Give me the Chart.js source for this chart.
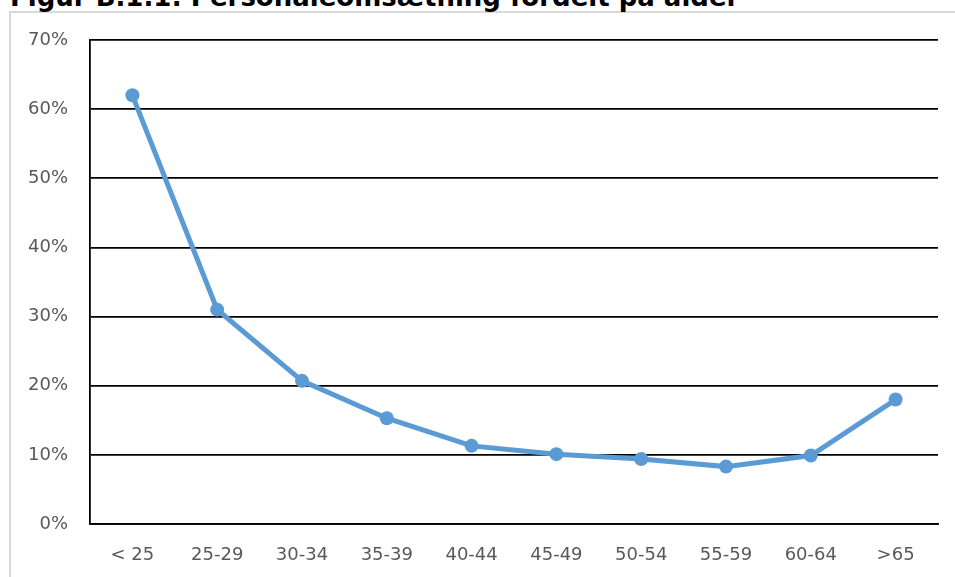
<!DOCTYPE html>
<html>
<head>
<meta charset="utf-8">
<script src="https://cdn.jsdelivr.net/npm/chart.js@4"></script>
<style>
  html, body { margin: 0; padding: 0; background: #fff; }
  body { width: 955px; height: 577px; position: relative; overflow: hidden; }
  #title {
    position: absolute; left: 10px; top: -16px; line-height: 26px;
    font-family: "DejaVu Sans", Verdana, sans-serif; font-weight: bold;
    font-size: 26px; color: #000; white-space: nowrap;
  }
  #frame {
    position: absolute; left: 9px; top: 11px; width: 1000px; height: 620px;
    border: 2px solid #d9d9d9; box-sizing: border-box; background: #fff;
  }
  #wrap { position: absolute; left: 0; top: 0; width: 955px; height: 577px; }
</style>
</head>
<body>
<div id="frame"></div>
<div id="title">Figur B.1.1: Personaleomsætning fordelt på alder</div>
<div id="wrap"><canvas id="c"></canvas></div>
<script>
// Age groups and staff turnover share (%)
const ageGroups = ["< 25", "25-29", "30-34", "35-39", "40-44", "45-49", "50-54", "55-59", "60-64", ">65"];
const turnover = [62.0, 31.0, 20.7, 15.3, 11.3, 10.1, 9.4, 8.3, 9.9, 18.0];
const yTicks = [0, 10, 20, 30, 40, 50, 60, 70];

const lineBlue = "#5B9BD5";
const tickFont = { family: "'DejaVu Sans', Verdana, sans-serif", size: 18 };

new Chart(document.getElementById("c"), {
  type: "line",
  data: {
    labels: ageGroups,
    datasets: [{
      data: turnover,
      borderColor: lineBlue,
      backgroundColor: lineBlue,
      borderWidth: 5,
      pointRadius: 7,
      pointHoverRadius: 7,
      pointBorderWidth: 0,
      pointBackgroundColor: lineBlue,
      tension: 0,
      fill: false
    }]
  },
  options: {
    responsive: true,
    maintainAspectRatio: false,
    animation: false,
    layout: { padding: { left: 0, right: 17, top: 40, bottom: 0 } },
    plugins: { legend: { display: false }, tooltip: { enabled: false } },
    scales: {
      x: {
        offset: true,
        grid: { display: false, drawTicks: false },
        border: { display: true, color: "#000", width: 1.8 },
        ticks: { color: "#595959", font: tickFont, padding: 21, maxRotation: 0, autoSkip: false },
        afterFit: (s) => { s.height = 53; }
      },
      y: {
        min: 0, max: 70,
        afterBuildTicks: (s) => { s.ticks = yTicks.map(v => ({ value: v })); },
        grid: { color: "#000", lineWidth: 1.8, drawTicks: false },
        border: { display: true, color: "#000", width: 1.8 },
        ticks: { color: "#595959", font: tickFont, padding: 22, callback: (v) => v + "%" },
        afterFit: (s) => { s.width = 90; }
      }
    }
  }
});
</script>
</body>
</html>
